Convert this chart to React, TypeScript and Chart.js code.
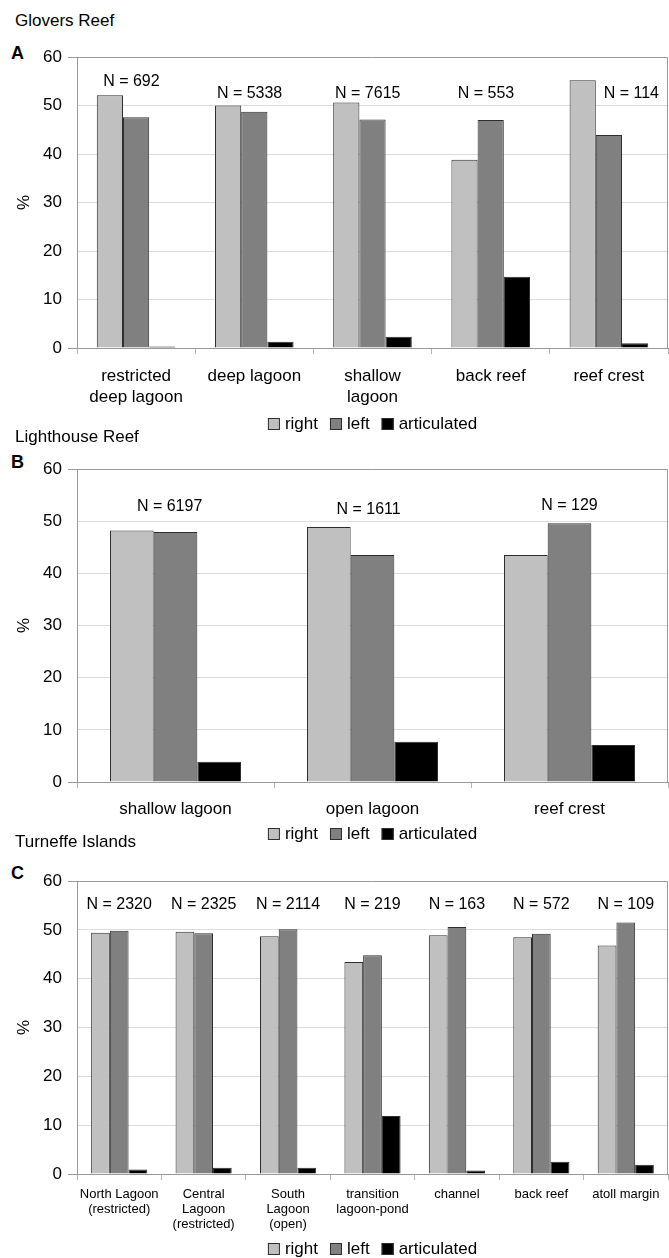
import React, { useEffect, useRef } from 'react';
import { Chart, registerables } from 'chart.js';

Chart.register(...registerables);

const FONT = '"Liberation Sans", Arial, Helvetica, sans-serif';

// ---- Glovers Reef ----
const gloversCategories = [['restricted', 'deep lagoon'], 'deep lagoon', ['shallow', 'lagoon'], 'back reef', 'reef crest'];
const gloversRight = [52.1, 50.0, 50.6, 38.8, 55.2];
const gloversLeft = [47.6, 48.7, 47.1, 47.0, 43.9];
const gloversArticulated = [0.3, 1.3, 2.3, 14.7, 1.0];
const gloversN = [692, 5338, 7615, 553, 114];

// ---- Lighthouse Reef ----
const lighthouseCategories = ['shallow lagoon', 'open lagoon', 'reef crest'];
const lighthouseRight = [48.2, 48.9, 43.5];
const lighthouseLeft = [47.9, 43.5, 49.6];
const lighthouseArticulated = [3.9, 7.7, 7.1];
const lighthouseN = [6197, 1611, 129];

// ---- Turneffe Islands ----
const turneffeCategories = [
  ['North Lagoon', '(restricted)'],
  ['Central', 'Lagoon', '(restricted)'],
  ['South', 'Lagoon', '(open)'],
  ['transition', 'lagoon-pond'],
  'channel',
  'back reef',
  'atoll margin',
];
const turneffeRight = [49.4, 49.6, 48.7, 43.4, 48.9, 48.5, 46.8];
const turneffeLeft = [49.8, 49.3, 50.1, 44.8, 50.6, 49.2, 51.5];
const turneffeArticulated = [0.9, 1.3, 1.3, 11.9, 0.7, 2.5, 1.9];
const turneffeN = [2320, 2325, 2114, 219, 163, 572, 109];

const seriesNames = ['right', 'left', 'articulated'];
const seriesColors = ['#c0c0c0', '#808080', '#000000'];

// Where each "N = ..." note sits: height in % units, sideways shift in category widths
const gloversNoteLevel = [55.0, 52.4, 52.4, 52.4, 52.4];
const gloversNoteShift = [-0.04, -0.04, -0.04, -0.04, 0.19];
const lighthouseNoteLevel = [52.7, 52.3, 52.9];
const lighthouseNoteShift = [-0.03, -0.02, 0];
const turneffeNoteLevel = [55.1, 55.1, 55.1, 55.1, 55.1, 55.1, 55.1];
const turneffeNoteShift = [0, 0, 0, 0, 0, 0, 0];

// Outline of the plotting area (left, top and right edges)
const plotFrame = {
  id: 'plotFrame',
  beforeDatasetsDraw(chart: any) {
    const { ctx, chartArea } = chart;
    const { left, top, right, bottom } = chartArea;
    ctx.save();
    ctx.strokeStyle = '#9a9a9a';
    ctx.lineWidth = 1;
    ctx.beginPath();
    ctx.moveTo(left + 0.5, bottom);
    ctx.lineTo(left + 0.5, top + 0.5);
    ctx.lineTo(right - 0.5, top + 0.5);
    ctx.lineTo(right - 0.5, bottom);
    ctx.stroke();
    ctx.restore();
  },
};

// "N = ..." sample-size notes above each group of bars
const sampleNotes = {
  id: 'sampleNotes',
  afterDatasetsDraw(chart: any, _args: any, opts: any) {
    const { ctx, chartArea, scales } = chart;
    const counts: number[] = opts.counts || [];
    const levels: number[] = opts.levels || [];
    const shifts: number[] = opts.shifts || [];
    const catWidth = (chartArea.right - chartArea.left) / counts.length;
    ctx.save();
    ctx.fillStyle = '#000';
    ctx.font = `16px ${FONT}`;
    ctx.textAlign = 'center';
    ctx.textBaseline = 'middle';
    counts.forEach((n, i) => {
      const x = scales.x.getPixelForValue(i) + (shifts[i] || 0) * catWidth;
      const y = scales.y.getPixelForValue(levels[i]);
      ctx.fillText(`N = ${n}`, x, y);
    });
    ctx.restore();
  },
};

// Series key drawn below the category labels, centred under the plot
const seriesKey = {
  id: 'seriesKey',
  afterDraw(chart: any, _args: any, opts: any) {
    const { ctx, chartArea } = chart;
    const box = 12;
    const gap = 5;
    const spacing = 12;
    const y = chartArea.bottom + opts.offset;
    ctx.save();
    ctx.font = `17px ${FONT}`;
    ctx.textBaseline = 'middle';
    ctx.textAlign = 'left';
    const items = chart.data.datasets.map((ds: any) => ({
      label: ds.label,
      fill: ds.backgroundColor,
      stroke: ds.borderColor,
      width: box + gap + ctx.measureText(ds.label).width,
    }));
    const total = items.reduce((s: number, it: any) => s + it.width, 0) + spacing * (items.length - 1);
    let x = (chartArea.left + chartArea.right - total) / 2;
    items.forEach((it: any) => {
      ctx.fillStyle = it.fill;
      ctx.fillRect(x, y - box / 2, box, box);
      ctx.strokeStyle = it.stroke;
      ctx.lineWidth = 1;
      ctx.strokeRect(x + 0.5, y - box / 2 + 0.5, box - 1, box - 1);
      ctx.fillStyle = '#000';
      ctx.fillText(it.label, x + box + gap, y);
      x += it.width + spacing;
    });
    ctx.restore();
  },
};

type PanelSpec = {
  title: string;
  letter: string;
  titleTop: number;
  letterTop: number;
  canvasTop: number;
  canvasHeight: number;
  plotHeight: number;
  keyOffset: number;
  tickSize: number;
  tickLineHeight: number;
  tickPadding: number;
  categories: any[];
  right: number[];
  left: number[];
  articulated: number[];
  counts: number[];
  noteLevels: number[];
  noteShifts: number[];
};

const PAD_TOP = 17;

const panels: PanelSpec[] = [
  {
    title: 'Glovers Reef',
    letter: 'A',
    titleTop: 10.5,
    letterTop: 42.7,
    canvasTop: 40,
    canvasHeight: 400,
    plotHeight: 291,
    keyOffset: 76,
    tickSize: 17,
    tickLineHeight: 21 / 17,
    tickPadding: 11.5,
    categories: gloversCategories,
    right: gloversRight,
    left: gloversLeft,
    articulated: gloversArticulated,
    counts: gloversN,
    noteLevels: gloversNoteLevel,
    noteShifts: gloversNoteShift,
  },
  {
    title: 'Lighthouse Reef',
    letter: 'B',
    titleTop: 427,
    letterTop: 451.7,
    canvasTop: 452,
    canvasHeight: 400,
    plotHeight: 313,
    keyOffset: 52,
    tickSize: 17,
    tickLineHeight: 21 / 17,
    tickPadding: 10.5,
    categories: lighthouseCategories,
    right: lighthouseRight,
    left: lighthouseLeft,
    articulated: lighthouseArticulated,
    counts: lighthouseN,
    noteLevels: lighthouseNoteLevel,
    noteShifts: lighthouseNoteShift,
  },
  {
    title: 'Turneffe Islands',
    letter: 'C',
    titleTop: 832,
    letterTop: 863,
    canvasTop: 864,
    canvasHeight: 394,
    plotHeight: 293,
    keyOffset: 75,
    tickSize: 13,
    tickLineHeight: 15.3 / 13,
    tickPadding: 6.5,
    categories: turneffeCategories,
    right: turneffeRight,
    left: turneffeLeft,
    articulated: turneffeArticulated,
    counts: turneffeN,
    noteLevels: turneffeNoteLevel,
    noteShifts: turneffeNoteShift,
  },
];

function BarPanel({ spec }: { spec: PanelSpec }) {
  const ref = useRef<HTMLCanvasElement | null>(null);

  useEffect(() => {
    if (!ref.current) return;
    const values = [spec.right, spec.left, spec.articulated];
    const axisHeight = spec.canvasHeight - PAD_TOP - spec.plotHeight;
    const chart = new Chart(ref.current, {
      type: 'bar',
      data: {
        labels: spec.categories,
        datasets: seriesNames.map((name, i) => ({
          label: name,
          data: values[i],
          backgroundColor: seriesColors[i],
          borderColor: '#2e2e2e',
          borderWidth: 1,
          categoryPercentage: 0.665,
          barPercentage: 1,
        })),
      },
      options: {
        animation: false,
        responsive: false,
        devicePixelRatio: 1,
        layout: { padding: { top: PAD_TOP, right: 1, left: 0, bottom: 0 } },
        plugins: {
          legend: { display: false },
          tooltip: { enabled: false },
          sampleNotes: { counts: spec.counts, levels: spec.noteLevels, shifts: spec.noteShifts },
          seriesKey: { offset: spec.keyOffset },
        } as any,
        scales: {
          x: {
            offset: true,
            grid: {
              offset: true,
              drawOnChartArea: false,
              drawTicks: true,
              tickLength: 6,
              tickColor: '#b4b4b4',
            },
            border: { color: '#9a9a9a' },
            ticks: {
              color: '#000',
              font: { family: FONT, size: spec.tickSize, lineHeight: spec.tickLineHeight },
              padding: spec.tickPadding,
              maxRotation: 0,
              minRotation: 0,
              autoSkip: false,
            },
            afterFit: (axis: any) => {
              axis.height = axisHeight;
            },
          },
          y: {
            min: 0,
            max: 60,
            ticks: {
              stepSize: 10,
              color: '#000',
              font: { family: FONT, size: 17 },
              padding: 6,
            },
            grid: {
              color: '#dcdcdc',
              tickLength: 9,
              tickColor: (c: any) =>
                c.tick && (c.tick.value === 0 || c.tick.value === 60) ? '#9a9a9a' : 'rgba(0,0,0,0)',
            },
            border: { color: '#9a9a9a' },
            title: {
              display: true,
              text: '%',
              color: '#000',
              font: { family: FONT, size: 17 },
              padding: { top: 14, bottom: 0 },
            },
            afterFit: (axis: any) => {
              axis.width = 77;
            },
          },
        } as any,
      },
      plugins: [plotFrame, sampleNotes, seriesKey],
    } as any);
    return () => chart.destroy();
  }, [spec]);

  return (
    <div style={{ position: 'absolute', left: 0, top: spec.canvasTop, width: 669, height: spec.canvasHeight }}>
      <canvas ref={ref} width={669} height={spec.canvasHeight} style={{ display: 'block' }} />
    </div>
  );
}

export default function App() {
  return (
    <div
      style={{
        position: 'fixed',
        left: 0,
        top: 0,
        width: 669,
        height: 1258,
        overflow: 'hidden',
        background: '#fff',
        fontFamily: FONT,
        color: '#000',
      }}
    >
      {panels.map((p) => (
        <React.Fragment key={p.letter}>
          <div
            style={{ position: 'absolute', left: 15, top: p.titleTop, fontSize: 17, lineHeight: '20px', whiteSpace: 'nowrap' }}
          >
            {p.title}
          </div>
          <div
            style={{
              position: 'absolute',
              left: 11,
              top: p.letterTop,
              fontSize: 18,
              fontWeight: 'bold',
              lineHeight: '20px',
            }}
          >
            {p.letter}
          </div>
          <BarPanel spec={p} />
        </React.Fragment>
      ))}
    </div>
  );
}
